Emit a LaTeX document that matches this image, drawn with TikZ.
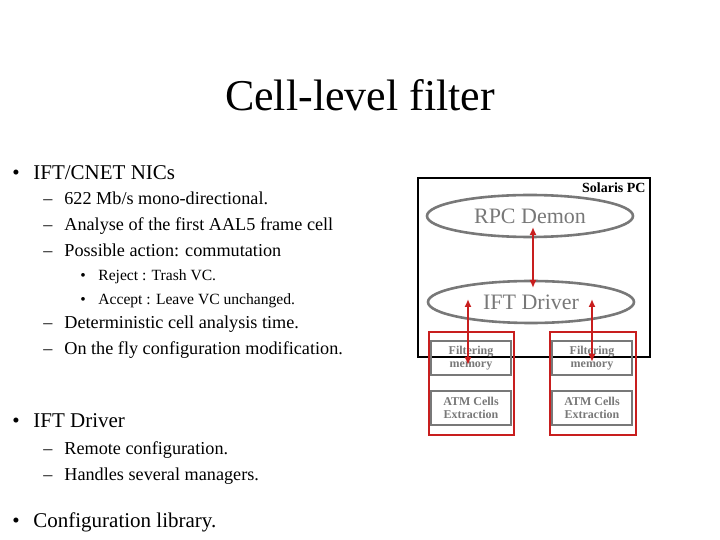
\documentclass[tikz,border=0pt]{standalone}
\usepackage{fontspec}
\setmainfont{Liberation Serif}
\usetikzlibrary{shapes.geometric,arrows.meta,positioning}
\definecolor{boxred}{RGB}{200,30,30}
\definecolor{txtgray}{RGB}{120,120,120}
\begin{document}
\begin{tikzpicture}[
        x=0.5pt, y=-0.5pt,
        item/.style={anchor=west, inner sep=0pt, text height=1.5ex, text depth=.25ex, font=\fontsize{10.5}{12}\selectfont},
        subitem/.style={anchor=west, inner sep=0pt, text height=1.5ex, text depth=.25ex, font=\fontsize{9.1}{10}\selectfont},
        subsub/.style={anchor=west, inner sep=0pt, text height=1.5ex, text depth=.25ex, font=\fontsize{7.8}{8}\selectfont},
        module/.style={ellipse, draw=txtgray, line width=1.3pt, text=txtgray, minimum width=103pt, minimum height=21pt, font=\fontsize{11}{13}\selectfont},
        unit/.style={rectangle, draw=txtgray, line width=1pt, text=txtgray, align=center, minimum width=40pt, minimum height=17pt, inner sep=0pt, font=\bfseries\fontsize{6}{6.5}\selectfont},
        card/.style={rectangle, draw=boxred, line width=1pt},
        link/.style={{Latex[length=4pt,width=3.5pt]}-{Latex[length=4pt,width=3.5pt]}, boxred, line width=1.3pt},
    ]
        \useasboundingbox (0,0) rectangle (720,540);
        % Title
        \node (title) at (360,95) {\fontsize{22}{26}\selectfont Cell-level filter};

        % Left text
        \foreach \y in {174,422,522} \node [item] at (12,\y) {\textbullet};
        \foreach \y in {199,225,251,323,349,449,475} \node [subitem] at (43,\y) {--};
        \foreach \y in {275,299} \node [subsub] at (80,\y) {\textbullet};
        \node (b1) [item] at (33,174) {IFT/CNET NICs};
        \node (s1) [subitem] at (64,199) {622 Mb/s mono-directional.};
        \node (s2) [subitem] at (64,225) {Analyse of the first AAL5 frame cell};
        \node (s3) [subitem] at (64,251) {Possible action: commutation};
        \node (t1) [subsub] at (98,275) {Reject : Trash VC.};
        \node (t2) [subsub] at (98,299) {Accept : Leave VC unchanged.};
        \node (s4) [subitem] at (64,323) {Deterministic cell analysis time.};
        \node (s5) [subitem] at (64,349) {On the fly configuration modification.};
        \node (b2) [item] at (33,422) {IFT Driver};
        \node (s6) [subitem] at (64,449) {Remote configuration.};
        \node (s7) [subitem] at (64,475) {Handles several managers.};
        \node (b3) [item] at (33,522) {Configuration library.};

        % Solaris PC
        \draw [line width=1.2pt] (418,178) rectangle (650,357);
        \node (pc) [anchor=north east, inner sep=0pt, font=\bfseries\fontsize{7}{8}\selectfont] at (646,182) {Solaris PC};
        \node (rpc) [module] at (530,216) {RPC Demon};
        \node (ift) [module] at (531,302) {IFT Driver};

        % NIC cards
        \draw [card] (429,332) rectangle (514,435);
        \draw [card] (550,332) rectangle (636,435);
        \node (filtL) [unit] at (471,358) {Filtering\\memory};
        \node (atmL) [unit] at (471,408) {ATM Cells\\Extraction};
        \node (filtR) [unit] at (592,358) {Filtering\\memory};
        \node (atmR) [unit] at (592,408) {ATM Cells\\Extraction};

        % Links
        \coordinate (rpcA) at (533,227);
        \coordinate (iftA) at (533,288);
        \coordinate (iftL) at (468,299);
        \coordinate (filtLA) at (468,365);
        \coordinate (iftR) at (592,299);
        \coordinate (filtRA) at (592,362);
        \draw [link] (rpcA) -- (iftA);
        \draw [link] (iftL) -- (filtLA);
        \draw [link] (iftR) -- (filtRA);
\end{tikzpicture}
\end{document}
